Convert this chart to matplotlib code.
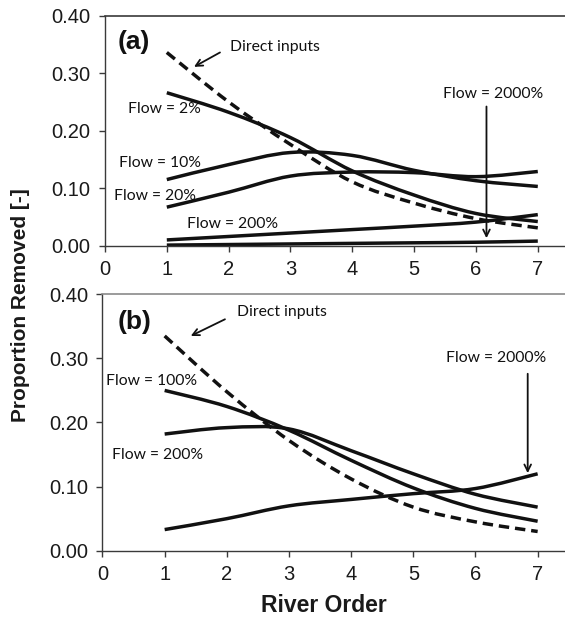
import numpy as np
import matplotlib
matplotlib.use('Agg')
import matplotlib.pyplot as plt
from matplotlib.path import Path
from matplotlib.patches import PathPatch

# River order on the x axis, proportion removed on y
river_order = [1, 2, 3, 4, 5, 6, 7]

# Panel (a)
direct_a = [0.336, 0.250, 0.176, 0.111, 0.074, 0.047, 0.031]
flow2_a = [0.266, 0.232, 0.188, 0.130, 0.088, 0.056, 0.042]
flow10_a = [0.115, 0.141, 0.162, 0.157, 0.131, 0.113, 0.103]
flow20_a = [0.067, 0.093, 0.121, 0.128, 0.127, 0.120, 0.129]
flow200_a = [0.010, 0.016, 0.022, 0.028, 0.034, 0.041, 0.054]
flow2000_a = [0.001, 0.002, 0.003, 0.004, 0.005, 0.006, 0.008]

# Panel (b)
direct_b = [0.335, 0.248, 0.172, 0.112, 0.068, 0.045, 0.030]
flow100_b = [0.250, 0.225, 0.188, 0.141, 0.098, 0.066, 0.046]
flow200_b = [0.182, 0.192, 0.190, 0.156, 0.120, 0.088, 0.068]
flow2000_b = [0.033, 0.050, 0.070, 0.080, 0.089, 0.097, 0.120]

y_ticks = [0.0, 0.1, 0.2, 0.3, 0.4]
x_ticks = [0, 1, 2, 3, 4, 5, 6, 7]

ANNOT_FONT = 'Lato'
LINE_COLOR = '#111111'


def smooth_line(ax, x, y, dashed=False):
    # Excel-style smoothed line: Catmull-Rom segments drawn as cubic Beziers
    pts = np.column_stack([x, y]).astype(float)
    n = len(pts)
    verts = [pts[0]]
    codes = [Path.MOVETO]
    for i in range(n - 1):
        p0 = pts[max(i - 1, 0)]
        p1 = pts[i]
        p2 = pts[i + 1]
        p3 = pts[min(i + 2, n - 1)]
        c1 = p1 + (p2 - p0) / 6.0
        c2 = p2 - (p3 - p1) / 6.0
        verts += [c1, c2, p2]
        codes += [Path.CURVE4] * 3
    ls = (0, (3.0, 1.7)) if dashed else '-'
    patch = PathPatch(Path(verts, codes), facecolor='none', edgecolor=LINE_COLOR,
                      lw=2.5, linestyle=ls, capstyle='butt', joinstyle='round')
    ax.add_patch(patch)


def style_axes(ax, top_color):
    ax.set_xlim(0, 7.44)
    ax.set_ylim(0, 0.4)
    ax.set_xticks(x_ticks)
    ax.set_yticks(y_ticks)
    ax.set_yticklabels(['%.2f' % v for v in y_ticks])
    ax.spines['right'].set_visible(False)
    for s in ['left', 'bottom']:
        ax.spines[s].set_color('#3a3a3a')
        ax.spines[s].set_linewidth(1.0)
    ax.spines['top'].set_color(top_color)
    ax.spines['top'].set_linewidth(1.2)
    ax.tick_params(direction='out', length=4.5, width=1.0, color='#3a3a3a',
                   labelsize=14.5, labelcolor='#1a1a1a', pad=6)
    for lab in ax.get_xticklabels() + ax.get_yticklabels():
        lab.set_family('Liberation Sans')


def label(ax, x, y, text):
    ax.text(x, y, text, fontsize=11.3, family=ANNOT_FONT, color='#111111',
            ha='left', va='center')


def arrow(ax, xy_from, xy_to):
    ax.annotate('', xy=xy_to, xytext=xy_from,
                arrowprops=dict(arrowstyle='->', lw=1.3, color='#111111',
                                mutation_scale=12, shrinkA=0, shrinkB=0))


fig = plt.figure(figsize=(5.65, 6.19), dpi=100)

# ---- panel (a) ----
ax_a = fig.add_axes([0.1858, 0.6031, 0.8142, 0.3716])
style_axes(ax_a, '#3a3a3a')
for series, dashed in [(direct_a, True), (flow2_a, False), (flow10_a, False),
                       (flow20_a, False), (flow200_a, False), (flow2000_a, False)]:
    smooth_line(ax_a, river_order, series, dashed)

ax_a.text(0.2, 0.355, '(a)', fontsize=19, fontweight='bold', family='Liberation Sans',
          ha='left', va='center', color='#111111')
label(ax_a, 2.02, 0.346, 'Direct inputs')
arrow(ax_a, (1.86, 0.336), (1.44, 0.311))
label(ax_a, 0.37, 0.237, 'Flow = 2%')
label(ax_a, 0.22, 0.144, 'Flow = 10%')
label(ax_a, 0.15, 0.086, 'Flow = 20%')
label(ax_a, 1.32, 0.038, 'Flow = 200%')
label(ax_a, 5.47, 0.263, 'Flow = 2000%')
arrow(ax_a, (6.17, 0.242), (6.17, 0.013))

# ---- panel (b) ----
ax_b = fig.add_axes([0.1814, 0.1103, 0.8186, 0.4143])
style_axes(ax_b, '#8a8a8a')
for series, dashed in [(direct_b, True), (flow100_b, False), (flow200_b, False),
                       (flow2000_b, False)]:
    smooth_line(ax_b, river_order, series, dashed)

ax_b.text(0.24, 0.357, '(b)', fontsize=19, fontweight='bold', family='Liberation Sans',
          ha='left', va='center', color='#111111')
label(ax_b, 2.16, 0.373, 'Direct inputs')
arrow(ax_b, (1.97, 0.361), (1.42, 0.335))
label(ax_b, 0.06, 0.264, 'Flow = 100%')
label(ax_b, 0.15, 0.149, 'Flow = 200%')
label(ax_b, 5.52, 0.300, 'Flow = 2000%')
arrow(ax_b, (6.84, 0.276), (6.84, 0.121))

fig.text(0.5726, 0.0215, 'River Order', fontsize=16.5, fontweight='bold',
         family='Liberation Sans', ha='center', va='center', color='#1a1a1a')
fig.text(0.037, 0.507, 'Proportion Removed [-]', fontsize=15, fontweight='bold',
         family='Liberation Sans', rotation=90, ha='center', va='center', color='#1a1a1a')

fig.savefig('out.png', dpi=100)
